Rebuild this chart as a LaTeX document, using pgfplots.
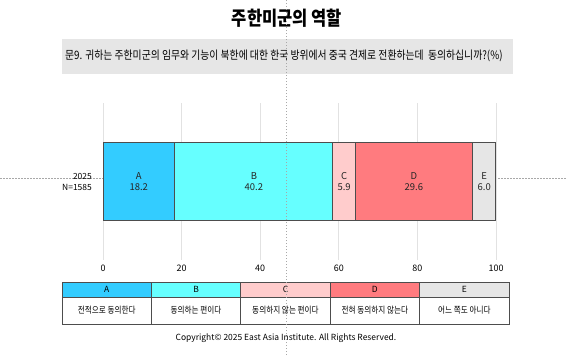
\documentclass[border=0pt]{standalone}
\usepackage{fontspec}
\setmainfont{Noto Sans CJK KR}
\newfontfamily\kfont[FakeStretch=0.85]{Noto Sans CJK KR}
\usepackage{pgfplots}
\pgfplotsset{compat=1.18}
\definecolor{cA}{HTML}{33CCFF}
\definecolor{cB}{HTML}{66FFFF}
\definecolor{cC}{HTML}{FFCCCC}
\definecolor{cD}{HTML}{FF7B7F}
\definecolor{cE}{HTML}{E6E6E6}
\definecolor{qbox}{HTML}{E6E6E6}
\definecolor{edge}{HTML}{4D4D4D}
\definecolor{gridc}{HTML}{E2E2E2}
\definecolor{guide}{HTML}{A8A8A8}
\begin{document}
\begin{tikzpicture}[x=1bp,y=1bp]
\path[use as bounding box] (0,0) rectangle (567,355);
% horizontal guide (behind)
\draw[guide, line width=0.6bp, dash pattern=on 1.5bp off 1.5bp] (0,177) -- (567,177);
% title
\node[font=\kfont\bfseries\fontsize{19.5}{22}\selectfont] at (287,337) {주한미군의 역할};
% question box
\fill[qbox] (62,281) rectangle (513,316);
\node[anchor=west, inner sep=0, font=\kfont\fontsize{11.6}{13}\selectfont] at (65,299) {문9. 귀하는 주한미군의 임무와 기능이 북한에 대한 한국 방위에서 중국 견제로 전환하는데\ \ 동의하십니까?(\%)};
\begin{axis}[
  at={(103bp,95bp)}, anchor=south west,
  scale only axis, width=393bp, height=157bp,
  xmin=0, xmax=100, ymin=-1, ymax=1,
  xbar stacked, bar width=78bp,
  xtick={0,20,40,60,80,100},
  ytick={0}, yticklabels={{2025\\N=1585}},
  yticklabel style={align=right, anchor=east, inner sep=0, xshift=-11bp, font=\fontsize{8.5}{11}\selectfont},
  xticklabel style={anchor=center, inner sep=0, yshift=-8bp, font=\fontsize{9}{10}\selectfont},
  /pgf/number format/assume math mode=true,
  xmajorgrids, grid style={draw=gridc, line width=0.9bp},
  axis line style={draw=none}, major tick length=0pt,
  clip=false,
]
\addplot[fill=cA, draw=edge, line width=0.9bp] coordinates {(18.2,0)};
\addplot[fill=cB, draw=edge, line width=0.9bp] coordinates {(40.2,0)};
\addplot[fill=cC, draw=edge, line width=0.9bp] coordinates {(5.9,0)};
\addplot[fill=cD, draw=edge, line width=0.9bp] coordinates {(29.6,0)};
\addplot[fill=cE, draw=edge, line width=0.9bp] coordinates {(6.0,0)};
\coordinate (lA) at (axis cs:9.1,0);
\coordinate (lB) at (axis cs:38.4,0);
\coordinate (lC) at (axis cs:61.35,0);
\coordinate (lD) at (axis cs:79.1,0);
\coordinate (lE) at (axis cs:97.0,0);
\end{axis}
\foreach \n/\a/\b in {lA/A/18.2, lB/B/40.2, lC/C/5.9, lD/D/29.6, lE/E/6.0}{
  \node[font=\fontsize{9.5}{12}\selectfont, text=black!85] at ([yshift=5.5bp]\n) {\a};
  \node[font=\fontsize{9.5}{12}\selectfont, text=black!85] at ([yshift=-6bp]\n) {\b};
}
% legend table
\foreach \i/\c/\l/\t in {0/cA/A/전적으로 동의한다, 1/cB/B/동의하는 편이다, 2/cC/C/동의하지 않는 편이다, 3/cD/D/전혀 동의하지 않는다, 4/cE/E/어느 쪽도 아니다}{
  \pgfmathsetmacro{\xa}{62+\i*89.4}
  \pgfmathsetmacro{\xb}{62+(\i+1)*89.4}
  \pgfmathsetmacro{\xm}{62+(\i+0.5)*89.4}
  \fill[\c] (\xa,58) rectangle (\xb,73);
  \draw[edge, line width=0.9bp] (\xa,31) rectangle (\xb,73);
  \draw[edge, line width=0.9bp] (\xa,58) -- (\xb,58);
  \node[font=\fontsize{8.5}{10}\selectfont] at (\xm,65.5) {\l};
  \node[font=\kfont\fontsize{9}{10}\selectfont] at (\xm,44.5) {\t};
}
% copyright
\node[font=\fontsize{8.5}{10}\selectfont] at (286,17) {Copyright© 2025 East Asia Institute. All Rights Reserved.};
% vertical guide (on top)
\draw[guide, line width=0.6bp, dash pattern=on 1.5bp off 1.5bp] (286,0) -- (286,355);
\end{tikzpicture}
\end{document}
